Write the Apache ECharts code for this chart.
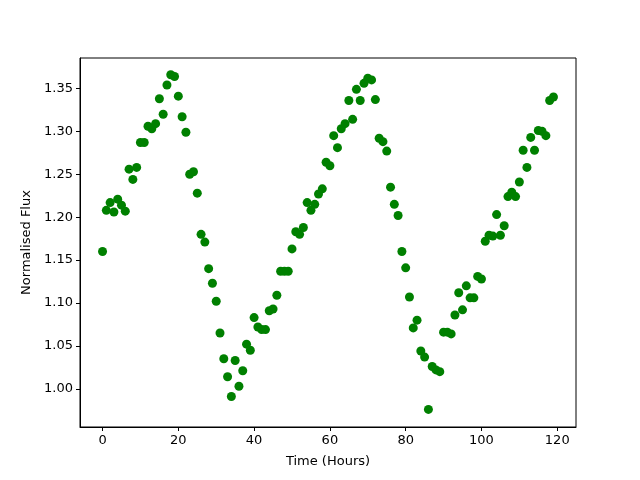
<!DOCTYPE html>
<html>
<head>
<meta charset="utf-8">
<script src="https://cdn.jsdelivr.net/npm/echarts@6/dist/echarts.min.js"></script>
<style>
  html, body { margin: 0; padding: 0; background: #fff; }
  #chart { width: 640px; height: 480px; }
</style>
</head>
<body>
<div id="chart"></div>
<script>
// hours 0..119, one reading per hour
const hours = [];
for (let i = 0; i < 120; i++) hours.push(i);

const flux = [
  1.160, 1.208, 1.217, 1.206, 1.221, 1.214, 1.207, 1.256, 1.244, 1.258,
  1.287, 1.287, 1.306, 1.303, 1.309, 1.338, 1.320, 1.354, 1.366, 1.364,
  1.341, 1.317, 1.299, 1.250, 1.253, 1.228, 1.180, 1.171, 1.140, 1.123,
  1.102, 1.065, 1.035, 1.014, 0.991, 1.033, 1.003, 1.021, 1.052, 1.045,
  1.083, 1.072, 1.069, 1.069, 1.091, 1.093, 1.109, 1.137, 1.137, 1.137,
  1.163, 1.183, 1.180, 1.188, 1.217, 1.208, 1.215, 1.227, 1.233, 1.264,
  1.260, 1.295, 1.281, 1.303, 1.309, 1.336, 1.314, 1.349, 1.336, 1.356,
  1.362, 1.360, 1.337, 1.292, 1.288, 1.277, 1.235, 1.215, 1.202, 1.160,
  1.141, 1.107, 1.071, 1.080, 1.044, 1.037, 0.976, 1.026, 1.022, 1.020,
  1.066, 1.066, 1.064, 1.086, 1.112, 1.092, 1.120, 1.106, 1.106, 1.131,
  1.128, 1.172, 1.179, 1.178, 1.203, 1.179, 1.190, 1.224, 1.229, 1.224,
  1.241, 1.278, 1.258, 1.293, 1.278, 1.301, 1.300, 1.295, 1.336, 1.340
];

const xTicks = [0, 20, 40, 60, 80, 100, 120];
const yTicks = [1.00, 1.05, 1.10, 1.15, 1.20, 1.25, 1.30, 1.35];

const points = hours.map((h, i) => [h, flux[i]]);

const font = 'DejaVu Sans';

const option = {
  animation: false,
  grid: {
    left: 80, right: 64, top: 58, bottom: 53,
    show: true,
    borderColor: '#000',
    borderWidth: 1
  },
  xAxis: {
    type: 'value',
    min: -5.95,
    max: 124.95,
    name: 'Time (Hours)',
    nameLocation: 'middle',
    nameGap: 28,
    nameTextStyle: { color: '#000', fontSize: 13, fontFamily: font },
    axisLine: { show: true, onZero: false, lineStyle: { color: '#000' } },
    axisTick: { show: true, inside: false, length: 4, customValues: xTicks, lineStyle: { color: '#000' } },
    axisLabel: { color: '#000', fontSize: 13, fontFamily: font, margin: 7, customValues: xTicks },
    splitLine: { show: false }
  },
  yAxis: {
    type: 'value',
    min: 0.9555,
    max: 1.3855,
    name: 'Normalised Flux',
    nameLocation: 'middle',
    nameGap: 47,
    nameTextStyle: { color: '#000', fontSize: 13, fontFamily: font },
    axisLine: { show: true, onZero: false, lineStyle: { color: '#000' } },
    axisTick: { show: true, inside: false, length: 4, customValues: yTicks, lineStyle: { color: '#000' } },
    axisLabel: {
      color: '#000', fontSize: 13, fontFamily: font, margin: 7, customValues: yTicks,
      formatter: v => v.toFixed(2)
    },
    splitLine: { show: false }
  },
  series: [{
    type: 'scatter',
    data: points,
    symbol: 'circle',
    symbolSize: 9,
    itemStyle: { color: '#008000', opacity: 1 }
  }]
};

const chart = echarts.init(document.getElementById('chart'));
chart.setOption(option);
</script>
</body>
</html>
